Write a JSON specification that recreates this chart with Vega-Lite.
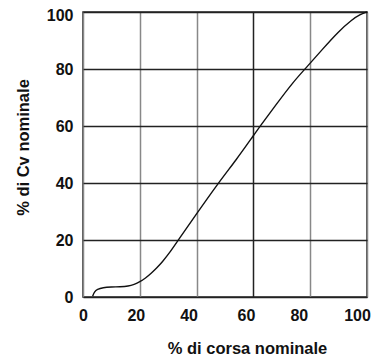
{
  "$schema": "https://vega.github.io/schema/vega-lite/v6.json",
  "autosize": "none",
  "width": 284,
  "height": 285,
  "padding": {"left": 83, "top": 12, "right": 6, "bottom": 59},
  "background": "white",
  "config": {
    "view": {"stroke": "#222", "strokeWidth": 1.5},
    "font": "Liberation Sans"
  },
  "data": {
    "values": [
      {"corsa": 3.4, "cv": 0.3},
      {"corsa": 4, "cv": 1.8},
      {"corsa": 5, "cv": 2.7},
      {"corsa": 7, "cv": 3.3},
      {"corsa": 10, "cv": 3.5},
      {"corsa": 13, "cv": 3.6},
      {"corsa": 16, "cv": 3.8},
      {"corsa": 18, "cv": 4.4},
      {"corsa": 20, "cv": 5.3},
      {"corsa": 22, "cv": 6.6},
      {"corsa": 24, "cv": 8.3},
      {"corsa": 26, "cv": 10.2},
      {"corsa": 28, "cv": 12.4},
      {"corsa": 30.5, "cv": 15.5},
      {"corsa": 33.5, "cv": 19.9},
      {"corsa": 40, "cv": 29.2},
      {"corsa": 47.5, "cv": 39.8},
      {"corsa": 54, "cv": 48.2},
      {"corsa": 59.5, "cv": 55.9},
      {"corsa": 62.3, "cv": 59.9},
      {"corsa": 68, "cv": 67.5},
      {"corsa": 73.7, "cv": 75.1},
      {"corsa": 79, "cv": 80.9},
      {"corsa": 84.2, "cv": 86.8},
      {"corsa": 90, "cv": 93.2},
      {"corsa": 94.7, "cv": 97.3},
      {"corsa": 97.5, "cv": 99.1},
      {"corsa": 100, "cv": 100}
    ]
  },
  "mark": {"type": "line", "interpolate": "basis", "color": "#111", "strokeWidth": 1.4},
  "encoding": {
    "x": {
      "field": "corsa",
      "type": "quantitative",
      "scale": {"domain": [0, 100], "nice": false},
      "axis": {
        "values": [0, 20, 40, 60, 80, 100],
        "title": "% di corsa nominale",
        "titleFontSize": 16.5,
        "titleFontWeight": "bold",
        "titleColor": "#111",
        "titleX": 164,
        "titleY": 56,
        "titleBaseline": "alphabetic",
        "labelFontSize": 16,
        "labelFontWeight": "bold",
        "labelColor": "#111",
        "labelPadding": 10,
        "labelFlush": false,
        "labelOffset": {
          "condition": [
            {"test": "datum.value === 20", "value": -4},
            {"test": "datum.value === 40", "value": -8},
            {"test": "datum.value === 60", "value": -7.5},
            {"test": "datum.value === 80", "value": -11.4},
            {"test": "datum.value === 100", "value": -10}
          ],
          "value": 0
        },
        "ticks": false,
        "domain": false,
        "grid": true,
        "gridColor": {"condition": {"test": "datum.value === 60", "value": "#222"}, "value": "#888"},
        "gridWidth": 1.5,
        "gridOpacity": 1
      }
    },
    "y": {
      "field": "cv",
      "type": "quantitative",
      "scale": {"domain": [0, 100], "nice": false},
      "axis": {
        "values": [0, 20, 40, 60, 80, 100],
        "title": "% di Cv nominale",
        "titleFontSize": 16.5,
        "titleFontWeight": "bold",
        "titleColor": "#111",
        "titleAngle": -90,
        "titleAlign": "center",
        "titleBaseline": "middle",
        "titleX": -60,
        "titleY": 135,
        "labelFontSize": 16,
        "labelFontWeight": "bold",
        "labelColor": "#111",
        "labelPadding": 10,
        "labelFlush": false,
        "labelOffset": {"condition": {"test": "datum.value === 100", "value": 3.5}, "value": 0},
        "ticks": false,
        "domain": false,
        "grid": true,
        "gridColor": "#222",
        "gridWidth": 1.3,
        "gridOpacity": 1
      }
    }
  }
}
